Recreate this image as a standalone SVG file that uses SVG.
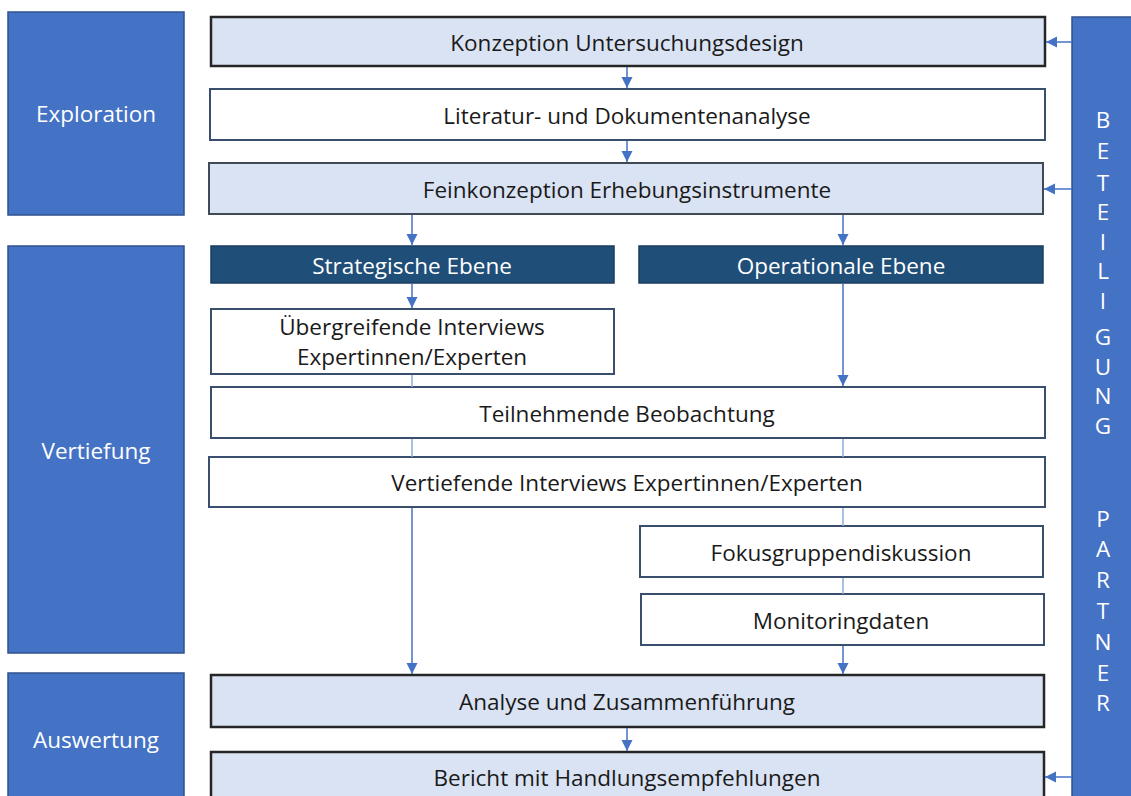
<svg xmlns="http://www.w3.org/2000/svg" width="1131" height="796" viewBox="0 0 1131 796">
<style>
text{font-family:"Open Sans","Liberation Sans",sans-serif;font-size:22.5px;text-anchor:middle;dominant-baseline:central}
.phase{fill:#4472c4;stroke:#2f528f;stroke-width:1.5}
.pt{fill:#ffffff}
.lb{fill:#dae3f3;stroke:#404a57;stroke-width:2}
.lbk{fill:#dae3f3;stroke:#262626;stroke-width:2.5}
.wb{fill:#ffffff;stroke:#3a4f6e;stroke-width:2}
.nv{fill:#1f4e79;stroke:#1a3d60;stroke-width:1.5}
.t{fill:#1a1a1a}
.conn{stroke:#4472c4;stroke-width:1.5;fill:none}
.conn2{stroke:#8eaadb;stroke-width:1.5;fill:none}
</style>
<defs>
<marker id="ah" viewBox="0 0 10 10" refX="10" refY="5" markerWidth="11" markerHeight="12" markerUnits="userSpaceOnUse" orient="auto">
<path d="M0,0 L10,5 L0,10 z" fill="#4472c4"/>
</marker>
</defs>
<rect width="1131" height="796" fill="#ffffff"/>
<g id="exploration"><rect class="phase" x="8" y="12" width="176" height="203"/><text class="pt" x="96" y="113">Exploration</text></g>
<g id="vertiefung"><rect class="phase" x="8" y="246" width="176" height="407"/><text class="pt" x="96" y="450">Vertiefung</text></g>
<g id="auswertung"><rect class="phase" x="8" y="673" width="176" height="130"/><text class="pt" x="96" y="739">Auswertung</text></g>
<g id="beteiligung"><rect class="phase" x="1072" y="17" width="66" height="790"/>
<text class="pt" x="1103" y="119">B</text><text class="pt" x="1103" y="150">E</text><text class="pt" x="1103" y="182">T</text><text class="pt" x="1103" y="211">E</text><text class="pt" x="1103" y="241">I</text><text class="pt" x="1103" y="270">L</text><text class="pt" x="1103" y="300">I</text><text class="pt" x="1103" y="336">G</text><text class="pt" x="1103" y="366">U</text><text class="pt" x="1103" y="395">N</text><text class="pt" x="1103" y="425">G</text>
<text class="pt" x="1103" y="518">P</text><text class="pt" x="1103" y="548">A</text><text class="pt" x="1103" y="579">R</text><text class="pt" x="1103" y="610">T</text><text class="pt" x="1103" y="641">N</text><text class="pt" x="1103" y="672">E</text><text class="pt" x="1103" y="702">R</text>
</g>
<g id="konzeption"><rect class="lbk" x="211" y="17" width="834" height="49"/><text class="t" x="627" y="42">Konzeption Untersuchungsdesign</text></g>
<g id="literatur"><rect class="wb" x="210" y="89" width="835" height="51"/><text class="t" x="627" y="115">Literatur- und Dokumentenanalyse</text></g>
<g id="feinkonzeption"><rect class="lb" x="209" y="163" width="834" height="51"/><text class="t" x="627" y="189">Feinkonzeption Erhebungsinstrumente</text></g>
<g id="strategisch"><rect class="nv" x="211" y="246" width="403" height="37"/><text class="pt" x="412" y="265">Strategische Ebene</text></g>
<g id="operational"><rect class="nv" x="639" y="246" width="404" height="37"/><text class="pt" x="841" y="265">Operationale Ebene</text></g>
<g id="uebergreifend"><rect class="wb" x="211" y="309" width="403" height="65"/><text class="t" x="412" y="326">Übergreifende Interviews</text><text class="t" x="412" y="356">Expertinnen/Experten</text></g>
<g id="teilnehmend"><rect class="wb" x="211" y="387" width="834" height="51"/><text class="t" x="627" y="413">Teilnehmende Beobachtung</text></g>
<g id="vertiefend"><rect class="wb" x="209" y="457" width="836" height="50"/><text class="t" x="627" y="482">Vertiefende Interviews Expertinnen/Experten</text></g>
<g id="fokus"><rect class="wb" x="640" y="526" width="403" height="51"/><text class="t" x="841" y="552">Fokusgruppendiskussion</text></g>
<g id="monitoring"><rect class="wb" x="641" y="594" width="403" height="51"/><text class="t" x="841" y="620">Monitoringdaten</text></g>
<g id="analyse"><rect class="lbk" x="211" y="675" width="833" height="52"/><text class="t" x="627" y="701">Analyse und Zusammenführung</text></g>
<g id="bericht"><rect class="lbk" x="211" y="752" width="833" height="60"/><text class="t" x="627" y="777">Bericht mit Handlungsempfehlungen</text></g>
<g id="connectors">
<line class="conn" x1="627" y1="67" x2="627" y2="88" marker-end="url(#ah)"/>
<line class="conn" x1="627" y1="141" x2="627" y2="162" marker-end="url(#ah)"/>
<line class="conn" x1="412" y1="215" x2="412" y2="245" marker-end="url(#ah)"/>
<line class="conn" x1="843" y1="215" x2="843" y2="245" marker-end="url(#ah)"/>
<line class="conn" x1="412" y1="284" x2="412" y2="308" marker-end="url(#ah)"/>
<line class="conn" x1="843" y1="284" x2="843" y2="386" marker-end="url(#ah)"/>
<line class="conn2" x1="412" y1="375" x2="412" y2="387"/>
<line class="conn2" x1="412" y1="439" x2="412" y2="457"/>
<line class="conn2" x1="843" y1="439" x2="843" y2="457"/>
<line class="conn" x1="412" y1="508" x2="412" y2="674" marker-end="url(#ah)"/>
<line class="conn2" x1="843" y1="508" x2="843" y2="526"/>
<line class="conn2" x1="843" y1="578" x2="843" y2="594"/>
<line class="conn" x1="843" y1="646" x2="843" y2="674" marker-end="url(#ah)"/>
<line class="conn" x1="627" y1="728" x2="627" y2="751" marker-end="url(#ah)"/>
<line class="conn" x1="1072" y1="42" x2="1046" y2="42" marker-end="url(#ah)"/>
<line class="conn" x1="1072" y1="189" x2="1044" y2="189" marker-end="url(#ah)"/>
<line class="conn" x1="1072" y1="777" x2="1045" y2="777" marker-end="url(#ah)"/>
</g>
</svg>
